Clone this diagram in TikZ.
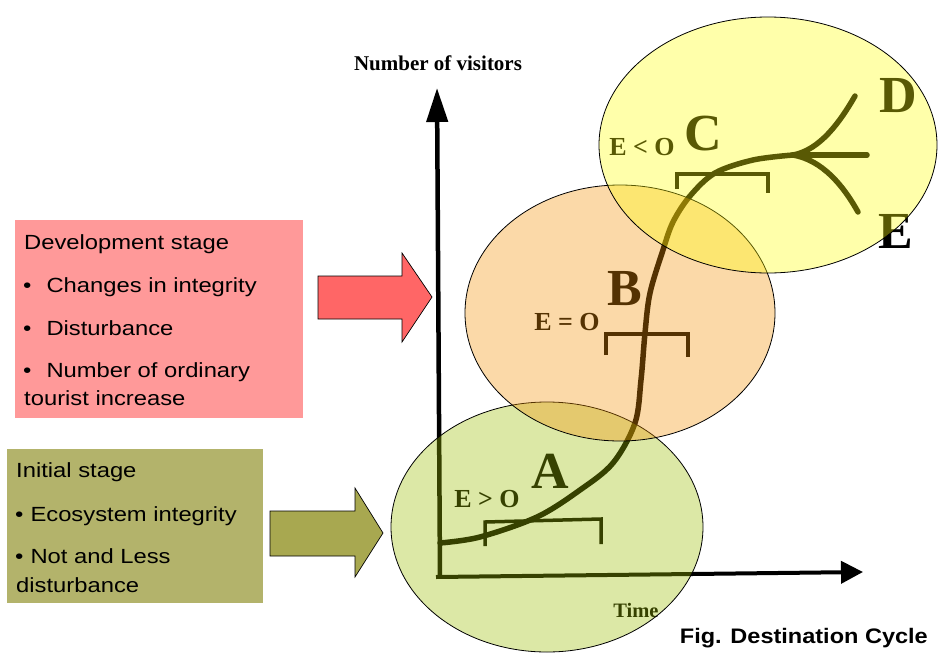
\documentclass[tikz,border=0pt]{standalone}
\usepackage{fontspec}
\setmainfont{Liberation Serif}
\newfontfamily\boxfont[FakeStretch=1.16]{Liberation Sans}
\newfontfamily\figfont[FakeStretch=1.12]{Liberation Sans}
\usetikzlibrary{arrows.meta,shapes.geometric}
\definecolor{pinkbox}{HTML}{FF9999}
\definecolor{pinkarrow}{HTML}{FF6666}
\definecolor{olivebox}{HTML}{B3B36B}
\definecolor{olivearrow}{HTML}{A8A850}
\definecolor{greenell}{RGB}{155,189,0}
\definecolor{orangeell}{RGB}{243,146,6}
\definecolor{yellowell}{RGB}{255,255,12}
\begin{document}
\begin{tikzpicture}[x=1pt,y=-1pt,
  boxtxt/.style={font=\boxfont\fontsize{20.5}{24}\selectfont, anchor=base west, inner sep=0pt},
  lbl/.style={font=\bfseries\fontsize{26}{30}\selectfont, anchor=base, inner sep=0pt},
  big/.style={font=\bfseries\fontsize{52}{56}\selectfont, anchor=base, inner sep=0pt},
  axislbl/.style={font=\bfseries\fontsize{21}{24}\selectfont, anchor=base, inner sep=0pt},
  stagebox/.style={anchor=north west, inner sep=0pt, draw=none},
  blockarrow/.style={draw=black, line width=0.7pt, line join=miter},
  axisline/.style={line width=4.5pt},
  curveline/.style={line width=5.5pt, line cap=round, line join=round},
  bracketline/.style={line width=3.5pt, line join=miter},
  stageell/.style={ellipse, draw=black, line width=0.8pt, fill opacity=0.35, inner sep=0pt}
]
\useasboundingbox (0,0) rectangle (938,654);

% ---------- graph ----------
\coordinate (O) at (440,578);
\coordinate (ytop) at (437,88);
\coordinate (xend) at (863,572);
\draw[axisline, -{Triangle[length=34pt,width=21pt]}] (O) -- (ytop);
\draw[line width=4pt, -{Triangle[length=22pt,width=22pt]}] (436,577) -- (xend);

\draw[curveline] plot[smooth, tension=0.55] coordinates {
  (440,543) (480,537) (537,517) (580,490) (613,463) (635,423) (641,380)
  (645,333) (650,293) (663,250) (673,222) (690,196) (715,173) (753,160) (793,155)};
\coordinate (J) at (793,155);
\coordinate (Dend) at (855,96);
\coordinate (Mend) at (867,155);
\coordinate (Eend) at (858,212);
\draw[curveline] (J) .. controls (820,150) and (840,122) .. (Dend);
\draw[curveline] (J) -- (Mend);
\draw[curveline] (J) .. controls (822,160) and (843,185) .. (Eend);

\draw[bracketline] (485,546) -- (485,522) -- (601,519) -- (601,544);
\draw[bracketline] (606,355) -- (606,334) -- (688,334) -- (688,357);
\draw[bracketline] (677,189) -- (677,174) -- (768,174) -- (768,193);

\node[axislbl] (ylab) at (438,70) {Number of visitors};
\node[font=\bfseries\fontsize{20.5}{24}\selectfont, anchor=base, inner sep=0pt] (xlab) at (636,617) {Time};

\node[lbl] (eA) at (487,507) {E > O};
\node[lbl] (eB) at (567,330) {E = O};
\node[lbl] (eC) at (642,155) {E < O};
\node[big] (A) at (550,488) {A};
\node[big] (B) at (625,305) {B};
\node[big] (C) at (703,150) {C};
\node[big] (D) at (898,112) {D};
\node[big] (E) at (896,248) {E};

% ---------- stage ellipses ----------
\node[stageell, fill=greenell, minimum width=312pt, minimum height=250pt] (ellA) at (547,527) {};
\node[stageell, fill=orangeell, minimum width=310pt, minimum height=256pt] (ellB) at (620,313) {};
\node[stageell, fill=yellowell, minimum width=338pt, minimum height=256pt] (ellC) at (768,145) {};

% ---------- development stage ----------
\node[stagebox, fill=pinkbox, minimum width=288pt, minimum height=198pt] (devbox) at (15,220) {};
\node[boxtxt] (d1) at (24,249) {Development stage};
\node[boxtxt] (d2) at (23,292) {•\hspace{15pt}Changes in integrity};
\node[boxtxt] (d3) at (23,335) {•\hspace{15pt}Disturbance};
\node[boxtxt] (d4) at (23,377) {•\hspace{15pt}Number of ordinary};
\node[boxtxt] (d5) at (24,405) {tourist increase};
\draw[blockarrow, fill=pinkarrow] (318,276) -- (402,276) -- (402,253) -- (432,297)
  -- (402,342) -- (402,319) -- (318,319) -- cycle;

% ---------- initial stage ----------
\node[stagebox, fill=olivebox, minimum width=256pt, minimum height=154pt] (inibox) at (7,449) {};
\node[boxtxt] (i1) at (16,477) {Initial stage};
\node[boxtxt] (i2) at (15,521) {•\hspace{7pt}Ecosystem integrity};
\node[boxtxt] (i3) at (15,563) {•\hspace{7pt}Not and Less};
\node[boxtxt] (i4) at (16,592) {disturbance};
\draw[blockarrow, fill=olivearrow] (270,511) -- (355,511) -- (355,488) -- (383,533)
  -- (355,577) -- (355,556) -- (270,556) -- cycle;

% ---------- caption ----------
\node[font=\figfont\bfseries\fontsize{21}{24}\selectfont, anchor=base east, inner sep=0pt] (cap) at (928,643) {Fig. Destination Cycle};
\end{tikzpicture}
\end{document}
